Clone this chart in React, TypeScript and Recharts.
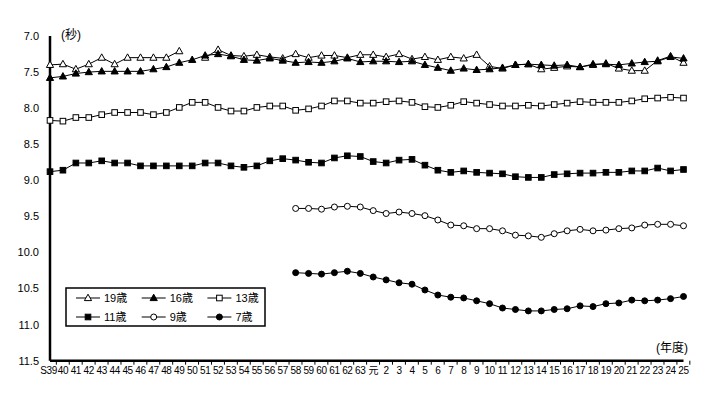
import { LineChart, Line, XAxis, YAxis } from 'recharts'

// 年度ラベル (S39〜63, 元, 2〜25)
const years = [
  'S39', '40', '41', '42', '43', '44', '45', '46', '47', '48', '49', '50', '51', '52', '53', '54',
  '55', '56', '57', '58', '59', '60', '61', '62', '63', '元', '2', '3', '4', '5', '6', '7', '8',
  '9', '10', '11', '12', '13', '14', '15', '16', '17', '18', '19', '20', '21', '22', '23', '24', '25',
]

const age19 = [
  7.40, 7.39, 7.46, 7.39, 7.30, 7.39, 7.30, 7.30, 7.30, 7.30, 7.21, null, 7.30, 7.19, 7.27, 7.28,
  7.26, 7.29, 7.31, 7.25, 7.30, 7.27, 7.27, 7.30, 7.26, 7.26, 7.29, 7.25, 7.32, 7.29, 7.33, 7.29,
  7.31, 7.26, 7.42, 7.45, 7.40, 7.39, 7.46, 7.44, 7.42, 7.43, 7.40, 7.38, 7.45, 7.48, 7.48, 7.34,
  7.28, 7.37,
]
const age16 = [
  7.58, 7.56, 7.52, 7.50, 7.49, 7.49, 7.49, 7.49, 7.46, 7.43, 7.37, 7.33, 7.27, 7.25, 7.28, 7.33,
  7.34, 7.31, 7.34, 7.37, 7.36, 7.37, 7.35, 7.31, 7.36, 7.35, 7.35, 7.36, 7.35, 7.40, 7.44, 7.48,
  7.45, 7.47, 7.46, 7.44, 7.40, 7.39, 7.40, 7.41, 7.40, 7.43, 7.39, 7.39, 7.40, 7.38, 7.36, 7.35,
  7.29, 7.31,
]
const age13 = [
  8.17, 8.18, 8.13, 8.13, 8.09, 8.06, 8.06, 8.06, 8.09, 8.06, 7.99, 7.92, 7.92, 7.99, 8.04, 8.04,
  7.99, 7.97, 7.97, 8.03, 8.01, 7.97, 7.90, 7.90, 7.93, 7.93, 7.91, 7.90, 7.92, 7.98, 7.99, 7.96,
  7.91, 7.93, 7.95, 7.97, 7.97, 7.96, 7.97, 7.95, 7.93, 7.91, 7.92, 7.92, 7.92, 7.90, 7.87, 7.86,
  7.85, 7.86,
]
const age11 = [
  8.88, 8.86, 8.76, 8.76, 8.73, 8.76, 8.76, 8.80, 8.80, 8.80, 8.80, 8.80, 8.76, 8.76, 8.80, 8.82,
  8.80, 8.73, 8.70, 8.72, 8.75, 8.76, 8.69, 8.66, 8.67, 8.74, 8.76, 8.72, 8.71, 8.79, 8.86, 8.89,
  8.87, 8.89, 8.90, 8.91, 8.95, 8.96, 8.96, 8.92, 8.91, 8.90, 8.90, 8.89, 8.89, 8.87, 8.87, 8.83,
  8.87, 8.85,
]
// 9歳・7歳は S58 から
const age9 = [
  null, null, null, null, null, null, null, null, null, null, null, null, null, null, null, null,
  null, null, null, 9.39, 9.39, 9.40, 9.37, 9.36, 9.37, 9.42, 9.46, 9.44, 9.46, 9.49, 9.55, 9.62,
  9.63, 9.67, 9.67, 9.70, 9.76, 9.77, 9.79, 9.74, 9.70, 9.68, 9.70, 9.69, 9.67, 9.66, 9.62, 9.61,
  9.61, 9.63,
]
const age7 = [
  null, null, null, null, null, null, null, null, null, null, null, null, null, null, null, null,
  null, null, null, 10.28, 10.29, 10.30, 10.28, 10.26, 10.29, 10.34, 10.38, 10.42, 10.44, 10.52,
  10.59, 10.62, 10.63, 10.67, 10.71, 10.77, 10.79, 10.81, 10.81, 10.79, 10.78, 10.74, 10.75, 10.71,
  10.70, 10.66, 10.67, 10.66, 10.64, 10.61,
]

const yTicks = [7.0, 7.5, 8.0, 8.5, 9.0, 9.5, 10.0, 10.5, 11.0, 11.5]

const series = [
  { key: 'a19', name: '19歳', shape: 'triangle', filled: false },
  { key: 'a16', name: '16歳', shape: 'triangle', filled: true },
  { key: 'a13', name: '13歳', shape: 'square', filled: false },
  { key: 'a11', name: '11歳', shape: 'square', filled: true },
  { key: 'a9', name: '9歳', shape: 'circle', filled: false },
  { key: 'a7', name: '7歳', shape: 'circle', filled: true },
]

const data = years.map((year, i) => ({
  year,
  a19: age19[i],
  a16: age16[i],
  a13: age13[i],
  a11: age11[i],
  a9: age9[i],
  a7: age7[i],
}))

const FONT = '"Liberation Sans", Arial, "Noto Sans CJK JP", sans-serif'
const W = 716
const H = 393
const PLOT_LEFT = 50
const PLOT_RIGHT = 683.5
const STEP = (PLOT_RIGHT - PLOT_LEFT) / years.length

function Marker({ shape, filled, x, y }: { shape: string; filled: boolean; x: number; y: number }) {
  const fill = filled ? '#000' : '#fff'
  if (shape === 'triangle') {
    return (
      <polygon
        points={`${x},${y - 3.8} ${x + 3.6},${y + 2.6} ${x - 3.6},${y + 2.6}`}
        fill={fill}
        stroke="#000"
        strokeWidth={1}
      />
    )
  }
  if (shape === 'square') {
    return <rect x={x - 2.8} y={y - 2.8} width={5.6} height={5.6} fill={fill} stroke="#000" strokeWidth={1} />
  }
  return <circle cx={x} cy={y} r={3} fill={fill} stroke="#000" strokeWidth={1} />
}

const makeDot = (shape: string, filled: boolean) => (props: any) => {
  const { cx, cy, index } = props
  if (cx == null || cy == null || Number.isNaN(cy)) return <g key={index} />
  return (
    <g key={index}>
      <Marker shape={shape} filled={filled} x={cx} y={cy} />
    </g>
  )
}

// 目盛り線は区切り位置に描く
function XTick(props: any) {
  const { x, y, payload } = props
  const axisY = y - 6
  const dx = payload.value === 'S39' ? -1.5 : 0
  return (
    <g>
      <line x1={x + STEP / 2} x2={x + STEP / 2} y1={axisY} y2={axisY + 4} stroke="#000" strokeWidth={1} />
      <text
        x={x + dx}
        y={y}
        dy="0.71em"
        textAnchor="middle"
        fontSize={10}
        letterSpacing={-0.4}
        fill="#000"
        fontFamily={FONT}
      >
        {payload.value}
      </text>
    </g>
  )
}

function LegendBox() {
  const rows = [series.slice(0, 3), series.slice(3, 6)]
  return (
    <svg
      width={201}
      height={40}
      style={{ position: 'absolute', left: 65, top: 287 }}
    >
      <rect x={1} y={1} width={199} height={38} fill="#fff" stroke="#000" strokeWidth={1.5} />
      {rows.map((row, r) =>
        row.map((s, c) => {
          const x0 = 11 + c * 65.7
          const yy = 11 + r * 19
          return (
            <g key={s.key}>
              <line x1={x0} x2={x0 + 24} y1={yy} y2={yy} stroke="#000" strokeWidth={1} />
              <Marker shape={s.shape} filled={s.filled} x={x0 + 12} y={yy} />
              <text x={x0 + 28} y={yy + 4} fontSize={11} fill="#000" fontFamily={FONT}>
                {s.name}
              </text>
            </g>
          )
        }),
      )}
    </svg>
  )
}

export default function App() {
  return (
    <div style={{ position: 'absolute', left: 0, top: 0, width: W, height: H, background: '#fff', fontFamily: FONT }}>
      <LineChart width={W} height={H} data={data} margin={{ top: 36, right: W - PLOT_RIGHT, bottom: 2.3, left: 0 }}>
        <XAxis
          dataKey="year"
          interval={0}
          height={30}
          tickLine={false}
          tickSize={4}
          tickMargin={2}
          axisLine={{ stroke: '#000', strokeWidth: 2.5 }}
          tick={<XTick />}
        />
        <YAxis
          width={PLOT_LEFT}
          reversed
          domain={[7, 11.5]}
          ticks={yTicks}
          interval={0}
          tickFormatter={(v: number) => v.toFixed(1)}
          tickLine={false}
          tickSize={4}
          tickMargin={7}
          axisLine={{ stroke: '#000', strokeWidth: 2.5 }}
          tick={{ fontSize: 11, fill: '#000', fontFamily: FONT }}
        />
        {series.map(s => (
          <Line
            key={s.key}
            dataKey={s.key}
            name={s.name}
            type="linear"
            stroke="#000"
            strokeWidth={1}
            dot={makeDot(s.shape, s.filled)}
            activeDot={false}
            isAnimationActive={false}
          />
        ))}
      </LineChart>
      <div style={{ position: 'absolute', left: 61, top: 25, fontSize: 12, color: '#000' }}>(秒)</div>
      <div style={{ position: 'absolute', left: 656, top: 338, fontSize: 12, color: '#000' }}>(年度)</div>
      <LegendBox />
    </div>
  )
}
